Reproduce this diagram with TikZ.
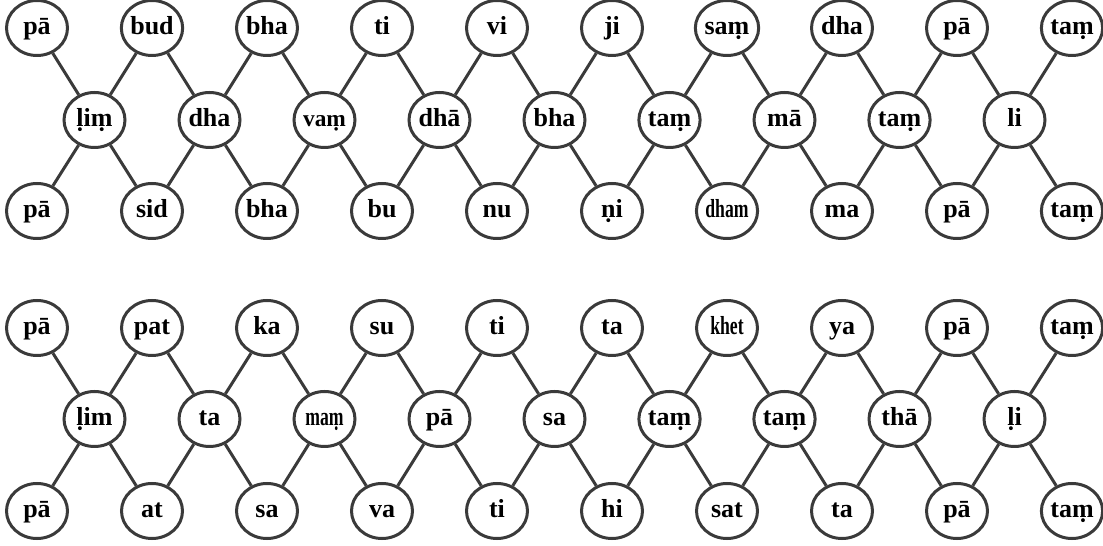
\documentclass[tikz,border=0pt]{standalone}
\usepackage{fontspec}
\usepackage{graphicx}
\setmainfont{Liberation Serif}
\usetikzlibrary{shapes.geometric}
\definecolor{linec}{RGB}{58,58,58}
\newcommand{\cnd}[1]{\scalebox{0.68}[1]{#1}}
\newcommand{\smaller}[1]{\scalebox{0.9}{#1}}
\begin{document}
\begin{tikzpicture}[x=1pt,y=1pt,
  syl/.style={ellipse, draw=linec, line width=3pt, fill=white,
    minimum width=61pt, minimum height=55pt, inner sep=0pt,
    text height=19pt, text depth=5pt,
    font=\fontsize{26}{26}\selectfont\bfseries},
  link/.style={draw=linec, line width=3pt}]
\useasboundingbox (0,0) rectangle (1103,546);
% ---------- upper block ----------
\foreach \i/\t in {0/pā,1/bud,2/bha,3/ti,4/vi,5/ji,6/saṃ,7/dha,8/pā,9/taṃ}
  \node[syl] (uT\i) at (37+\i*115,518) {\t};
\foreach \i/\t in {0/ḷiṃ,1/dha,2/\smaller{vaṃ},3/dhā,4/bha,5/taṃ,6/mā,7/taṃ,8/li}
  \node[syl] (uM\i) at (94.5+\i*115,426) {\t};
\foreach \i/\t in {0/pā,1/sid,2/bha,3/bu,4/nu,5/ṇi,6/\cnd{dham},7/ma,8/pā,9/taṃ}
  \node[syl] (uB\i) at (37+\i*115,335) {\t};
% ---------- lower block ----------
\foreach \i/\t in {0/pā,1/pat,2/ka,3/su,4/ti,5/ta,6/\cnd{khet},7/ya,8/pā,9/taṃ}
  \node[syl] (lT\i) at (37+\i*115,218) {\t};
\foreach \i/\t in {0/ḷim,1/ta,2/\cnd{maṃ},3/pā,4/sa,5/taṃ,6/taṃ,7/thā,8/ḷi}
  \node[syl] (lM\i) at (94.5+\i*115,127) {\t};
\foreach \i/\t in {0/pā,1/at,2/sa,3/va,4/ti,5/hi,6/sat,7/ta,8/pā,9/taṃ}
  \node[syl] (lB\i) at (37+\i*115,35) {\t};
% ---------- connectors ----------
\foreach \i [evaluate=\i as \j using int(\i+1)] in {0,...,8} {
  \draw[link] (uM\i) -- (uT\i);
  \draw[link] (uM\i) -- (uT\j);
  \draw[link] (uM\i) -- (uB\i);
  \draw[link] (uM\i) -- (uB\j);
  \draw[link] (lM\i) -- (lT\i);
  \draw[link] (lM\i) -- (lT\j);
  \draw[link] (lM\i) -- (lB\i);
  \draw[link] (lM\i) -- (lB\j);
}
\end{tikzpicture}
\end{document}
